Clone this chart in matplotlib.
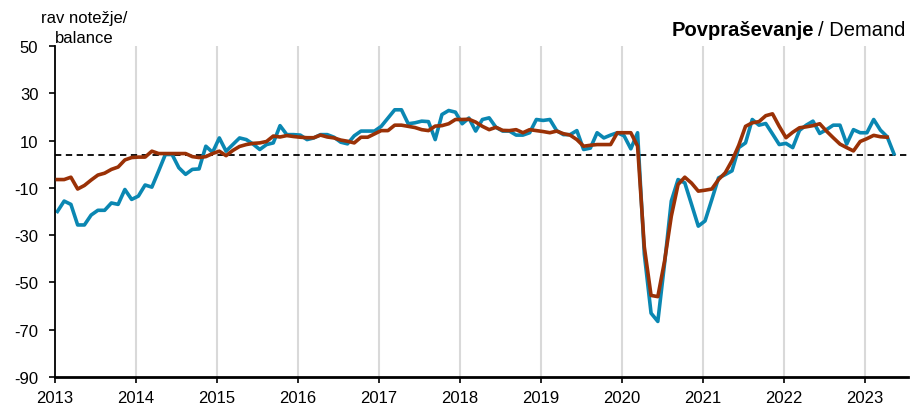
import numpy as np
import matplotlib
matplotlib.use("Agg")
import matplotlib.pyplot as plt

plt.rcParams["font.family"] = ["Liberation Sans", "DejaVu Sans"]
plt.rcParams["axes.unicode_minus"] = False

# monthly balance, Jan 2013 - May 2023
demand = [
    -20, -15.6, -17, -25.7, -25.7, -21.5, -19.5, -19.5, -16.4, -17, -10.7, -14.9,
    -13.5, -8.8, -9.7, -2.9, 4.1, 4.1, -1.5, -4.3, -2.2, -2, 7.6, 5,
    11.1, 5.5, 8.3, 11.1, 10.4, 8.5, 6.2, 8.3, 9.0, 16.3, 12.5, 12.5,
    12.3, 10.4, 11.1, 12.5, 12.5, 11.4, 9.3, 8.6, 12.0, 14.0, 14.0, 14.0,
    16, 19.5, 23, 23, 17.1, 17.5, 18.2, 18, 10.4, 21, 22.7, 22,
    17.1, 19.5, 14, 18.9, 19.6, 15.6, 14, 14, 12.3, 12.3, 13.3, 18.9,
    18.5, 18.9, 14.2, 12.5, 12.5, 14.2, 6.2, 6.8, 13.3, 11.1, 12.3, 13.3,
    12, 6.5, 13.3, -38, -63, -66.5, -42, -15.6, -6.5, -7.9, -17, -26.2,
    -24, -15, -5.8, -4.4, -2.8, 7, 9, 18.9, 16.5, 17.2, 12.8, 8.3,
    8.8, 7, 14.3, 16.5, 18.2, 13, 14.6, 16.5, 16.5, 8.5, 14.6, 13.3,
    13.3, 18.9, 14.4, 11.6, 4.4,
]

# smoothed series, Jan 2013 - Apr 2023
demand_avg = [
    -6.5, -6.5, -5.5, -10.5, -9.0, -6.7, -4.6, -3.8, -2.2, -1.2, 1.8, 2.8,
    3.0, 3.0, 5.5, 4.5, 4.5, 4.5, 4.5, 4.5, 3.2, 2.8, 3.2, 4.5,
    5.5, 3.6, 5.8, 7.5, 8.3, 8.8, 9.0, 9.6, 11.9, 11.5, 12.1, 11.7,
    11.4, 11.2, 11.2, 12.3, 11.5, 11.1, 10.2, 9.7, 9.0, 11.4, 11.4, 12.8,
    14.2, 14.2, 16.5, 16.5, 16, 15.5, 14.6, 14.2, 16.1, 16.3, 17.1, 18.9,
    18.9, 19, 17.8, 16, 14.6, 15.6, 14.3, 14.2, 14.6, 13.3, 14.6, 14.2,
    13.8, 13.3, 14, 12.9, 12.3, 10.4, 7.6, 8, 8.3, 8.3, 8.3, 13.3,
    13.3, 13.3, 7.6, -35, -55.5, -56, -41, -22, -8.6, -5.5, -8, -11.4,
    -11, -10.5, -6.5, -3.6, 1.5, 8, 16, 17.5, 18, 20.5, 21.3, 16,
    11.2, 13.5, 15.4, 15.8, 16.3, 17.1, 14, 11.2, 8.5, 7, 5.6, 9.6,
    10.8, 12.2, 11.6, 11.4,
]

long_term_avg = 4
years = list(range(2013, 2024))
yticks = [-90, -70, -50, -30, -10, 10, 30, 50]

x1 = 2013 + (np.arange(len(demand)) + 0.35) / 12
x2 = 2013 + (np.arange(len(demand_avg)) + 0.35) / 12

fig = plt.figure(figsize=(9.1, 4.1), dpi=100)
ax = fig.add_axes([0.0605, 0.078, 0.937, 0.8075])

for yr in years[1:]:
    ax.axvline(yr, color="#d9d9d9", lw=1.5, zorder=0)

ax.axhline(long_term_avg, color="black", lw=1.3, ls=(0, (3.5, 2.5)), zorder=1)
ax.plot(x1, demand, color="#0a87b2", lw=2.6, zorder=2)
ax.plot(x2, demand_avg, color="#9a3106", lw=2.6, zorder=3)

ax.set_xlim(2013, 2023.533)
ax.set_ylim(-90, 50)
ax.set_yticks(yticks)
ax.set_xticks(years)
ax.set_xticklabels([str(y) for y in years])
ax.tick_params(axis="both", labelsize=12, direction="out", length=4, width=1.2)
ax.tick_params(axis="y", pad=8)
ax.tick_params(axis="x", pad=5)

for side in ["top", "right"]:
    ax.spines[side].set_visible(False)
ax.spines["left"].set_linewidth(1.3)
ax.spines["bottom"].set_linewidth(2)

fig.text(0.093, 0.955, "rav notežje/", ha="center", va="center", fontsize=12)
fig.text(0.093, 0.905, "balance", ha="center", va="center", fontsize=12)

t2 = fig.text(0.995, 0.925, "/ Demand", ha="right", va="center", fontsize=14.5)
fig.canvas.draw()
bb = t2.get_window_extent()
fig.text((bb.x0 - 4) / fig.bbox.width, 0.925, "Povpraševanje", ha="right",
         va="center", fontsize=14.5, fontweight="bold")

fig.savefig("out.png", dpi=100)
